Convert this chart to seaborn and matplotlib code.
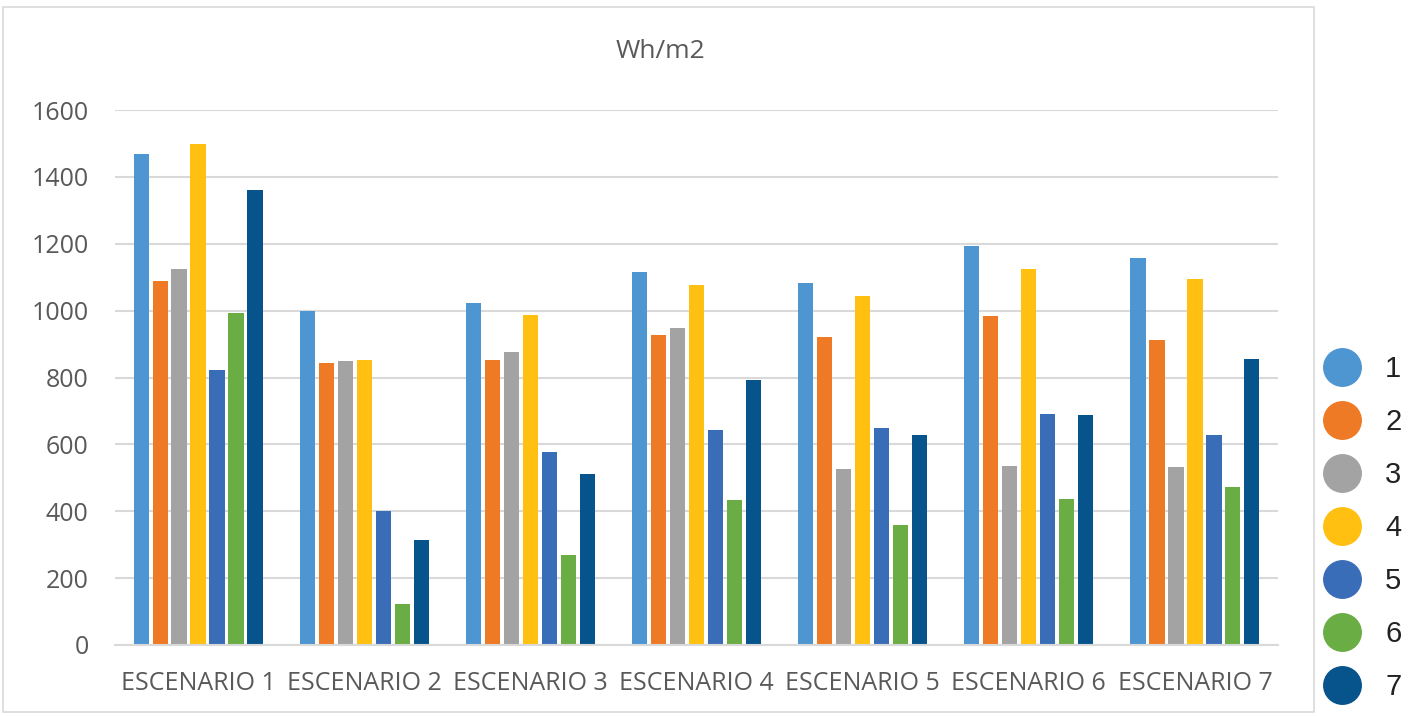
import matplotlib
matplotlib.use("Agg")
import matplotlib.pyplot as plt
import seaborn as sns
import pandas as pd
from matplotlib.lines import Line2D
from matplotlib.patches import Rectangle

escenarios = ["ESCENARIO 1", "ESCENARIO 2", "ESCENARIO 3", "ESCENARIO 4",
              "ESCENARIO 5", "ESCENARIO 6", "ESCENARIO 7"]
series_names = ["1", "2", "3", "4", "5", "6", "7"]
s1 = [1467, 1000, 1022, 1117, 1083, 1192, 1156]
s2 = [1089, 844, 853, 927, 921, 984, 912]
s3 = [1125, 850, 875, 949, 527, 536, 533]
s4 = [1499, 853, 987, 1077, 1045, 1124, 1095]
s5 = [823, 402, 577, 643, 648, 692, 629]
s6 = [994, 123, 269, 435, 358, 438, 473]
s7 = [1362, 314, 511, 794, 629, 689, 855]
yticks = [0, 200, 400, 600, 800, 1000, 1200, 1400, 1600]
colors = ["#4E96D2", "#EE7A26", "#A3A3A3", "#FFC012", "#3A6DB8", "#6AAD44", "#06548B"]

series = [s1, s2, s3, s4, s5, s6, s7]
rows = []
for name, vals in zip(series_names, series):
    for esc, v in zip(escenarios, vals):
        rows.append({"escenario": esc, "serie": name, "valor": v})
df = pd.DataFrame(rows)

sns.set_theme(style="white")
plt.rcParams["font.family"] = ["Open Sans", "DejaVu Sans"]

fig = plt.figure(figsize=(14.2, 7.16), dpi=100)
ax = fig.add_axes([115 / 1420, 1 - 645 / 716, (1278 - 115) / 1420, (645 - 110) / 716])

sns.barplot(data=df, x="escenario", y="valor", hue="serie", order=escenarios,
            hue_order=series_names, palette=colors, width=0.8, gap=0.2,
            ax=ax, legend=False, saturation=1, linewidth=0)

ax.set_ylim(0, 1600)
ax.set_yticks(yticks)
ax.set_xlim(-0.5, 6.5)
ax.grid(axis="y", color="#D9D9D9", linewidth=1.5)
ax.set_axisbelow(True)
for side in ["top", "right", "left"]:
    ax.spines[side].set_visible(False)
ax.spines["bottom"].set_color("#D9D9D9")
ax.spines["bottom"].set_linewidth(1.5)
ax.set_xlabel("")
ax.set_ylabel("")
ax.tick_params(axis="both", length=0, labelsize=18, labelcolor="#595959")
ax.tick_params(axis="y", pad=19)
ax.tick_params(axis="x", pad=19)

fig.text(660 / 1420, 1 - 52 / 716, "Wh/m2", ha="center", va="center",
         fontsize=19, color="#595959")

# chart area frame
fig.patches.append(Rectangle((3 / 1420, 1 - 712 / 716), (1314 - 3) / 1420, (712 - 7) / 716,
                             transform=fig.transFigure, fill=False,
                             edgecolor="#D9D9D9", linewidth=1.2))

handles = [Line2D([0], [0], marker="o", linestyle="", markersize=27,
                  markerfacecolor=c, markeredgecolor=c) for c in colors]
leg = fig.legend(handles, series_names, loc="center left",
                 bbox_to_anchor=(1307 / 1420, 1 - 528 / 716), frameon=False,
                 fontsize=21, labelspacing=0.86, handletextpad=0.68,
                 handlelength=1.6, borderaxespad=0)
for t in leg.get_texts():
    t.set_color("#222222")
    t.set_family(["Liberation Sans", "DejaVu Sans"])

fig.savefig("out.png", dpi=100)
